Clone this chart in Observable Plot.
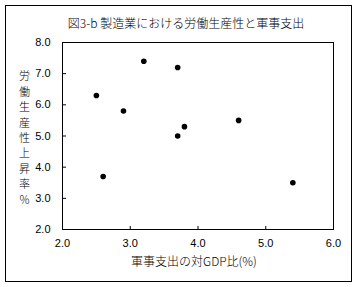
<!DOCTYPE html>
<html><head><meta charset="utf-8">
<script src="https://cdn.jsdelivr.net/npm/d3@7"></script>
<script src="https://cdn.jsdelivr.net/npm/@observablehq/plot@0.6"></script>
<style>
body{margin:0;background:#fff;}
#wrap{position:relative;width:358px;height:287px;}
#border{position:absolute;left:5px;top:5px;width:347px;height:277px;border:1px solid #000;box-sizing:border-box;pointer-events:none;}
</style>
</head><body>
<div id="wrap"><div id="border"></div></div>
<script>
const title = "図3-b 製造業における労働生産性と軍事支出";
const xLabel = "軍事支出の対GDP比(%)";
const yLabelChars = ["労","働","生","産","性","上","昇","率","％"];
const xTicks = [2, 3, 4, 5, 6];
const yTicks = [2, 3, 4, 5, 6, 7, 8];
const militarySpending = [3.2, 3.7, 2.5, 2.9, 4.6, 3.8, 3.7, 2.6, 5.4];
const productivityGrowth = [7.4, 7.2, 6.3, 5.8, 5.5, 5.3, 5.0, 3.7, 3.5];

const data = militarySpending.map((x, i) => ({x, y: productivityGrowth[i]}));
const cjk = "'Noto Sans CJK JP', sans-serif";

const chart = Plot.plot({
  width: 358, height: 287,
  marginLeft: 62, marginRight: 25, marginTop: 42, marginBottom: 58,
  style: {fontFamily: "'Liberation Sans', Arial, sans-serif", fontSize: "11px", color: "#000", background: "transparent"},
  x: {domain: [2, 6]},
  y: {domain: [2, 8]},
  marks: [
    Plot.frame({stroke: "#000", strokeWidth: 1}),
    Plot.axisX({ticks: xTicks, tickFormat: d3.format(".1f"), tickSize: -3, tickPadding: 13, label: null, fontSize: 11}),
    Plot.axisY({ticks: yTicks, tickFormat: d3.format(".1f"), tickSize: -4, tickPadding: 16, label: null, fontSize: 11}),
    Plot.dot(data, {x: "x", y: "y", r: 2.8, fill: "#000", stroke: null}),
    Plot.text([title], {frameAnchor: "top", dx: -12, dy: -23, fontSize: 12, fontFamily: cjk, fontWeight: 300, fill: "#000"}),
    Plot.text([xLabel], {frameAnchor: "bottom", dx: -4, dy: 36, fontSize: 12, fontFamily: cjk, fontWeight: 300, fill: "#000"}),
    Plot.text([yLabelChars.join("\n")], {frameAnchor: "left", textAnchor: "middle", dx: -38, dy: 1, lineHeight: 1.4, fontSize: 11, fontFamily: cjk, fontWeight: 300, fill: "#000"})
  ]
});
document.getElementById("wrap").prepend(chart);
</script>
</body></html>
